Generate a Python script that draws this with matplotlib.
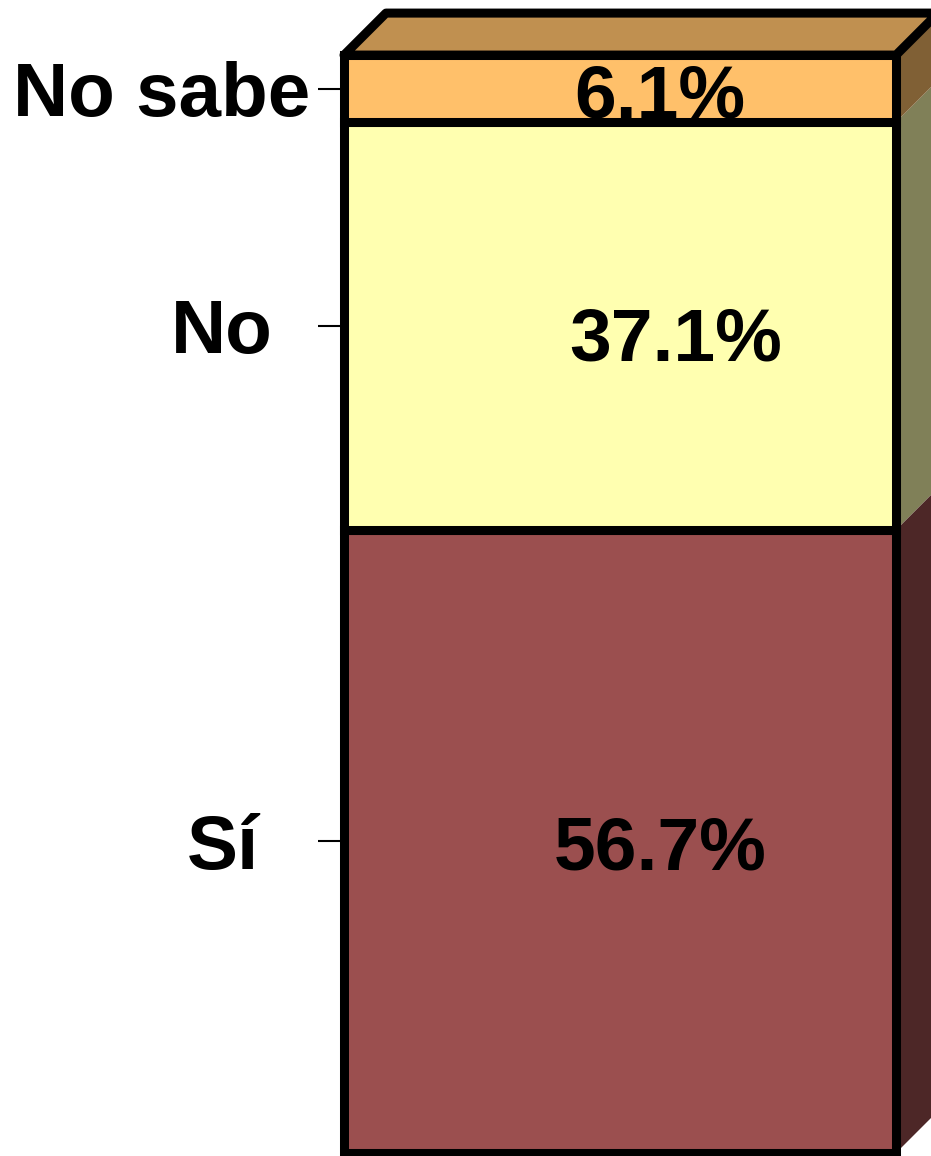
import numpy as np
import matplotlib
matplotlib.use('Agg')
import matplotlib.pyplot as plt
from matplotlib.patches import Polygon

plt.rcParams['font.family'] = ['Liberation Sans', 'DejaVu Sans']
plt.rcParams['font.weight'] = 'bold'

# data, bottom to top
categories = ['Sí', 'No', 'No sabe']
values = [56.7, 37.1, 6.1]

front_colors = ['#9b4f4f', '#ffffb0', '#ffc06a']
side_colors = ['#4d2727', '#808058', '#806035']
top_color = '#c09050'
label_pads = [42, 32, 5]                        # pt, tick label distance
text_offsets = [(40, -9), (56, -15), (40, -9)]  # px, value label shift

fig = plt.figure(figsize=(9.31, 11.56), dpi=100)
ax = fig.add_axes([0.3695, 0.0026, 0.5929, 0.9507])
ax.set_xlim(-0.5, 0.5)
ax.set_ylim(0, 100)

vals = np.array(values)
bottoms = np.concatenate([[0], np.cumsum(vals)[:-1]])
tops = bottoms + vals
centers = bottoms + vals / 2

# 3d depth, ~42 px right and up
ax_w = 0.5929 * 931
ax_h = 0.9507 * 1156
dx = 42 / ax_w
dy = 42 / ax_h * 100

ax.bar(0, vals, bottom=bottoms, width=1, color=front_colors,
       edgecolor='black', linewidth=6.5, zorder=3, clip_on=False)

for b, t, c in zip(bottoms, tops, side_colors):
    side = Polygon([(0.5, b), (0.5 + dx, b + dy), (0.5 + dx, t + dy), (0.5, t)],
                   closed=True, facecolor=c, edgecolor='none', zorder=2, clip_on=False)
    ax.add_patch(side)

top = tops[-1]
top_face = Polygon([(-0.5, top), (-0.5 + dx, top + dy), (0.5 + dx, top + dy), (0.5, top)],
                   closed=True, facecolor=top_color, edgecolor='black',
                   linewidth=6.5, joinstyle='round', zorder=2, clip_on=False)
ax.add_patch(top_face)

for c, v, (ox, oy) in zip(centers, vals, text_offsets):
    ax.annotate(f'{v:.1f}%', xy=(0, c), xytext=(ox * 0.72, oy * 0.72),
                textcoords='offset points', ha='center', va='center',
                fontsize=54, fontweight='bold', zorder=4)

for s in ax.spines.values():
    s.set_visible(False)
ax.set_xticks([])
ax.set_yticks(centers, categories)
ax.tick_params(axis='y', length=19, width=1.5, direction='out', labelsize=55)
for tick, p in zip(ax.yaxis.get_major_ticks(), label_pads):
    tick.set_pad(p)

fig.savefig('out.png', dpi=100)
